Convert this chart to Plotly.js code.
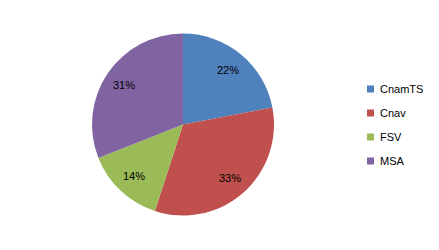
<!DOCTYPE html>
<html><head><meta charset="utf-8">
<script src="https://cdn.plot.ly/plotly-3.0.1.min.js"></script>
<style>html,body{margin:0;padding:0;background:#fff}#c{width:439px;height:250px}</style>
</head><body><div id="c"></div>
<script>
var categories = ["CnamTS", "Cnav", "FSV", "MSA"];
var values = [22, 33, 14, 31];
var colors = ["#4F81BD", "#C0504D", "#9BBB59", "#8064A2"];

var W = 439, H = 250, cx = 183, cy = 124.5, R = 91;
var font = {family: "Liberation Sans, Arial, sans-serif", size: 11, color: "#000"};
var trace = {
  type: "pie",
  labels: categories,
  values: values,
  sort: false,
  direction: "clockwise",
  rotation: 0,
  marker: {colors: colors, line: {width: 0}},
  textinfo: "none",
  hoverinfo: "none",
  showlegend: false,
  domain: {x: [(cx - R) / W, (cx + R) / W], y: [(H - cy - R) / H, (H - cy + R) / H]}
};

var shapes = [], annotations = [];
// slice percentage labels placed along each slice's mid-angle
var total = values.reduce(function (a, b) { return a + b; }, 0);
var cum = 0, rl = 0.78 * R;
values.forEach(function (v) {
  var mid = (cum + v / 2) / total * 2 * Math.PI;
  cum += v;
  var px = cx + rl * Math.sin(mid), py = cy - rl * Math.cos(mid);
  annotations.push({xref: "paper", yref: "paper", x: px / W, y: 1 - py / H,
    xanchor: "center", yanchor: "middle", showarrow: false,
    text: Math.round(v / total * 100) + "%", font: font});
});

var lx = 367, ly0 = 89, step = 24, sq = 7;
categories.forEach(function (c, i) {
  var y = ly0 + i * step;
  shapes.push({type: "rect", xref: "paper", yref: "paper",
    x0: lx / W, x1: (lx + sq) / W, y0: 1 - (y + sq / 2) / H, y1: 1 - (y - sq / 2) / H,
    fillcolor: colors[i], line: {width: 0}});
  annotations.push({xref: "paper", yref: "paper", x: (lx + sq + 4) / W, y: 1 - y / H,
    xanchor: "left", yanchor: "middle", showarrow: false, text: c, font: font});
});

Plotly.newPlot("c", [trace], {
  width: W, height: H,
  margin: {l: 0, r: 0, t: 0, b: 0},
  paper_bgcolor: "#fff",
  showlegend: false,
  shapes: shapes,
  annotations: annotations
}, {staticPlot: true, displayModeBar: false});
</script></body></html>
